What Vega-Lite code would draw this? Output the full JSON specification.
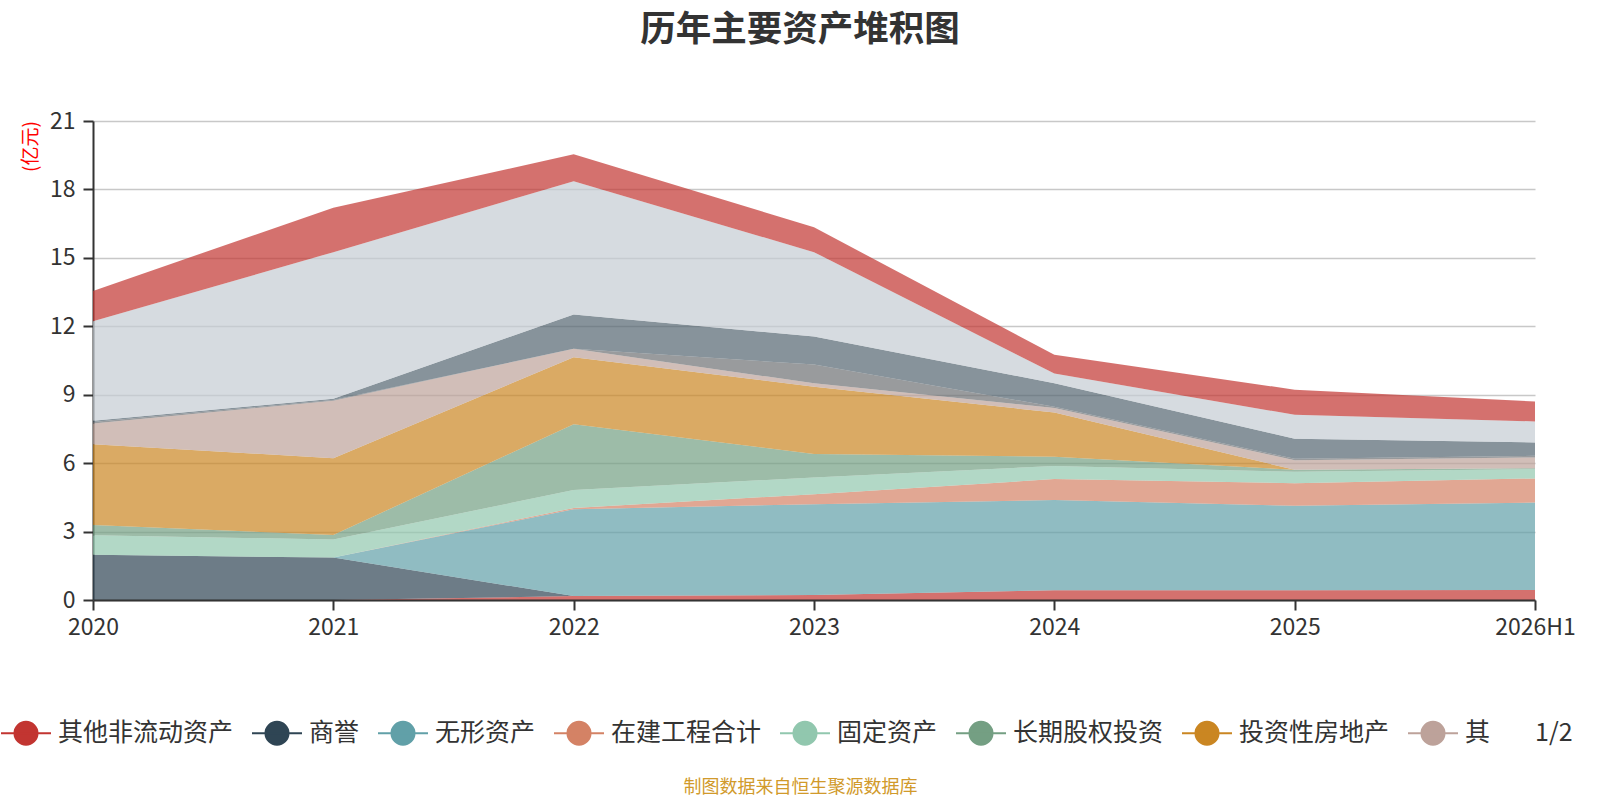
{
  "$schema": "https://vega.github.io/schema/vega-lite/v6.json",
  "width": 1442,
  "height": 479,
  "autosize": {"type": "none"},
  "padding": {"left": 93, "top": 121, "right": 65, "bottom": 200},
  "background": "white",
  "title": {
    "text": "历年主要资产堆积图",
    "fontSize": 35.5,
    "fontWeight": "bold",
    "color": "#333333",
    "anchor": "middle",
    "dx": -14,
    "offset": 62
  },
  "data": {
    "values": [
      {"year": "2020", "item": "其他非流动资产", "value": 0},
      {"year": "2021", "item": "其他非流动资产", "value": 0},
      {"year": "2022", "item": "其他非流动资产", "value": 0.17},
      {"year": "2023", "item": "其他非流动资产", "value": 0.22},
      {"year": "2024", "item": "其他非流动资产", "value": 0.43},
      {"year": "2025", "item": "其他非流动资产", "value": 0.43},
      {"year": "2026H1", "item": "其他非流动资产", "value": 0.44},
      {"year": "2020", "item": "商誉", "value": 1.98},
      {"year": "2021", "item": "商誉", "value": 1.86},
      {"year": "2022", "item": "商誉", "value": 0},
      {"year": "2023", "item": "商誉", "value": 0},
      {"year": "2024", "item": "商誉", "value": 0},
      {"year": "2025", "item": "商誉", "value": 0},
      {"year": "2026H1", "item": "商誉", "value": 0},
      {"year": "2020", "item": "无形资产", "value": 0},
      {"year": "2021", "item": "无形资产", "value": 0},
      {"year": "2022", "item": "无形资产", "value": 3.81},
      {"year": "2023", "item": "无形资产", "value": 3.98},
      {"year": "2024", "item": "无形资产", "value": 3.95},
      {"year": "2025", "item": "无形资产", "value": 3.7},
      {"year": "2026H1", "item": "无形资产", "value": 3.83},
      {"year": "2020", "item": "在建工程合计", "value": 0},
      {"year": "2021", "item": "在建工程合计", "value": 0},
      {"year": "2022", "item": "在建工程合计", "value": 0.05},
      {"year": "2023", "item": "在建工程合计", "value": 0.44},
      {"year": "2024", "item": "在建工程合计", "value": 0.92},
      {"year": "2025", "item": "在建工程合计", "value": 0.99},
      {"year": "2026H1", "item": "在建工程合计", "value": 1.06},
      {"year": "2020", "item": "固定资产", "value": 0.86},
      {"year": "2021", "item": "固定资产", "value": 0.79},
      {"year": "2022", "item": "固定资产", "value": 0.79},
      {"year": "2023", "item": "固定资产", "value": 0.73},
      {"year": "2024", "item": "固定资产", "value": 0.58},
      {"year": "2025", "item": "固定资产", "value": 0.5},
      {"year": "2026H1", "item": "固定资产", "value": 0.41},
      {"year": "2020", "item": "长期股权投资", "value": 0.45},
      {"year": "2021", "item": "长期股权投资", "value": 0.2},
      {"year": "2022", "item": "长期股权投资", "value": 2.89},
      {"year": "2023", "item": "长期股权投资", "value": 1.03},
      {"year": "2024", "item": "长期股权投资", "value": 0.4},
      {"year": "2025", "item": "长期股权投资", "value": 0.09},
      {"year": "2026H1", "item": "长期股权投资", "value": 0.04},
      {"year": "2020", "item": "投资性房地产", "value": 3.54},
      {"year": "2021", "item": "投资性房地产", "value": 3.37},
      {"year": "2022", "item": "投资性房地产", "value": 2.93},
      {"year": "2023", "item": "投资性房地产", "value": 2.95},
      {"year": "2024", "item": "投资性房地产", "value": 1.94},
      {"year": "2025", "item": "投资性房地产", "value": 0},
      {"year": "2026H1", "item": "投资性房地产", "value": 0},
      {"year": "2020", "item": "其他流动资产", "value": 0.91},
      {"year": "2021", "item": "其他流动资产", "value": 2.52},
      {"year": "2022", "item": "其他流动资产", "value": 0.37},
      {"year": "2023", "item": "其他流动资产", "value": 0.15},
      {"year": "2024", "item": "其他流动资产", "value": 0.2},
      {"year": "2025", "item": "其他流动资产", "value": 0.42},
      {"year": "2026H1", "item": "其他流动资产", "value": 0.47},
      {"year": "2020", "item": "存货", "value": 0.06},
      {"year": "2021", "item": "存货", "value": 0.03},
      {"year": "2022", "item": "存货", "value": 0},
      {"year": "2023", "item": "存货", "value": 0.82},
      {"year": "2024", "item": "存货", "value": 0.05},
      {"year": "2025", "item": "存货", "value": 0.06},
      {"year": "2026H1", "item": "存货", "value": 0.07},
      {"year": "2020", "item": "应收账款", "value": 0.06},
      {"year": "2021", "item": "应收账款", "value": 0.05},
      {"year": "2022", "item": "应收账款", "value": 1.51},
      {"year": "2023", "item": "应收账款", "value": 1.23},
      {"year": "2024", "item": "应收账款", "value": 1.03},
      {"year": "2025", "item": "应收账款", "value": 0.88},
      {"year": "2026H1", "item": "应收账款", "value": 0.59},
      {"year": "2020", "item": "货币资金", "value": 4.36},
      {"year": "2021", "item": "货币资金", "value": 6.43},
      {"year": "2022", "item": "货币资金", "value": 5.84},
      {"year": "2023", "item": "货币资金", "value": 3.7},
      {"year": "2024", "item": "货币资金", "value": 0.43},
      {"year": "2025", "item": "货币资金", "value": 1.05},
      {"year": "2026H1", "item": "货币资金", "value": 0.92},
      {"year": "2020", "item": "交易性金融资产", "value": 1.33},
      {"year": "2021", "item": "交易性金融资产", "value": 1.95},
      {"year": "2022", "item": "交易性金融资产", "value": 1.18},
      {"year": "2023", "item": "交易性金融资产", "value": 1.09},
      {"year": "2024", "item": "交易性金融资产", "value": 0.82},
      {"year": "2025", "item": "交易性金融资产", "value": 1.1},
      {"year": "2026H1", "item": "交易性金融资产", "value": 0.87}
    ]
  },
  "transform": [
    {
      "calculate": "indexof(['其他非流动资产','商誉','无形资产','在建工程合计','固定资产','长期股权投资','投资性房地产','其他流动资产','存货','应收账款','货币资金','交易性金融资产'], datum.item)",
      "as": "k"
    }
  ],
  "mark": {"type": "area", "opacity": 0.7},
  "encoding": {
    "x": {
      "field": "year",
      "type": "ordinal",
      "scale": {"type": "point", "padding": 0, "domain": ["2020", "2021", "2022", "2023", "2024", "2025", "2026H1"]},
      "axis": {
        "labelAngle": 0,
        "labelFontSize": 23,
        "labelColor": "#333333",
        "labelPadding": 6,
        "tickSize": 10,
        "tickWidth": 2,
        "tickColor": "#333333",
        "domainColor": "#333333",
        "domainWidth": 2,
        "grid": false,
        "zindex": 1,
        "title": "制图数据来自恒生聚源数据库",
        "titleColor": "#d19a2b",
        "titleFontSize": 18,
        "titleFontWeight": "normal",
        "titleX": 707,
        "titleY": 187,
        "titleAlign": "center",
        "titleBaseline": "middle"
      }
    },
    "y": {
      "field": "value",
      "type": "quantitative",
      "stack": "zero",
      "scale": {"domain": [0, 21], "nice": false},
      "axis": {
        "values": [0, 3, 6, 9, 12, 15, 18, 21],
        "labelFontSize": 23,
        "labelColor": "#333333",
        "labelPadding": 8,
        "tickSize": 10,
        "tickWidth": 2,
        "tickColor": "#333333",
        "domainColor": "#333333",
        "domainWidth": 2,
        "grid": true,
        "gridColor": "#c8c8c8",
        "gridWidth": 1.5,
        "title": "(亿元)",
        "titleColor": "#ff0000",
        "titleFontSize": 19,
        "titleFontWeight": "normal",
        "titleAngle": 270,
        "titleX": -63,
        "titleY": 25,
        "titleAlign": "center",
        "titleBaseline": "middle"
      }
    },
    "color": {
      "field": "item",
      "type": "nominal",
      "scale": {
        "domain": ["其他非流动资产", "商誉", "无形资产", "在建工程合计", "固定资产", "长期股权投资", "投资性房地产", "其他流动资产", "存货", "应收账款", "货币资金", "交易性金融资产"],
        "range": ["#c23531", "#2f4554", "#61a0a8", "#d48265", "#91c7ae", "#749f83", "#ca8622", "#bda29a", "#6e7074", "#546570", "#c4ccd3", "#c23531"]
      },
      "legend": {
        "orient": "none",
        "direction": "horizontal",
        "legendX": -93,
        "legendY": 586,
        "title": "1/2",
        "titleOrient": "right",
        "titleFontSize": 25,
        "titleFontWeight": "normal",
        "titleColor": "#333333",
        "titleAnchor": "middle",
        "titleBaseline": "middle",
        "titlePadding": 45,
        "padding": 0,
        "values": ["其他非流动资产", "商誉", "无形资产", "在建工程合计", "固定资产", "长期股权投资", "投资性房地产", "其他流动资产"],
        "labelExpr": "datum.label == '其他流动资产' ? '其' : datum.label",
        "symbolType": "M-1,0L1,0M0.46,0A0.46,0.46,0,1,1,-0.46,0A0.46,0.46,0,1,1,0.46,0Z",
        "symbolSize": 2500,
        "symbolOpacity": 1,
        "symbolStrokeWidth": 2,
        "labelFontSize": 25,
        "labelColor": "#333333",
        "labelOffset": 6,
        "columnPadding": 14,
        "labelLimit": 400,
        "encode": {
          "symbols": {
            "update": {
              "stroke": {"scale": "color", "field": "value"},
              "strokeWidth": {"value": 2},
              "opacity": {"value": 1}
            }
          },
          "title": {
            "update": {
              "dy": {"value": 5}
            }
          }
        }
      }
    },
    "order": {"field": "k", "type": "quantitative"}
  },
  "config": {
    "font": "Noto Sans CJK SC",
    "view": {"stroke": null}
  }
}
